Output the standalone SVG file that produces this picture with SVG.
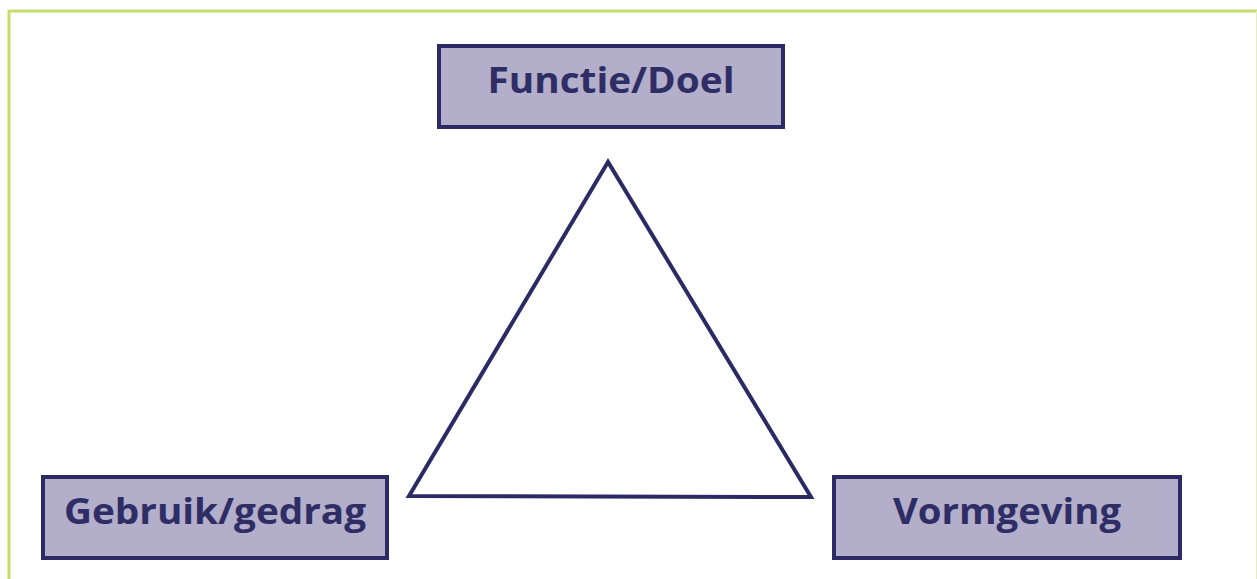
<svg xmlns="http://www.w3.org/2000/svg" width="1257" height="579" viewBox="0 0 1257 579">
<style>
.node rect{fill:#b3aec9;stroke:#2b2a64;stroke-width:4}
.node text{font-family:"Open Sans","Liberation Sans",sans-serif;font-weight:bold;font-size:36px;fill:#2e2d66;text-anchor:middle}
.conn{fill:none;stroke:#2b2a64;stroke-width:4;stroke-linejoin:miter}
</style>
<rect x="0" y="0" width="1257" height="579" fill="#ffffff"/>
<path d="M9 600 V11 H1257" fill="none" stroke="#c8dc6e" stroke-width="3"/>
<path d="M1256.5 11 V600" fill="none" stroke="#e6efbd" stroke-width="1"/>
<g id="connectors">
<polygon class="conn" points="608,162 409,496 811,497"/>
</g>
<g id="node-functie" class="node">
<rect x="439" y="46" width="344" height="81"/>
<text x="611" y="93" textLength="247" lengthAdjust="spacingAndGlyphs">Functie/Doel</text>
</g>
<g id="node-gebruik" class="node">
<rect x="43" y="477" width="344" height="81"/>
<text x="215" y="524" textLength="302" lengthAdjust="spacingAndGlyphs">Gebruik/gedrag</text>
</g>
<g id="node-vormgeving" class="node">
<rect x="834" y="477" width="346" height="81"/>
<text x="1007" y="524" textLength="228" lengthAdjust="spacingAndGlyphs">Vormgeving</text>
</g>
</svg>
